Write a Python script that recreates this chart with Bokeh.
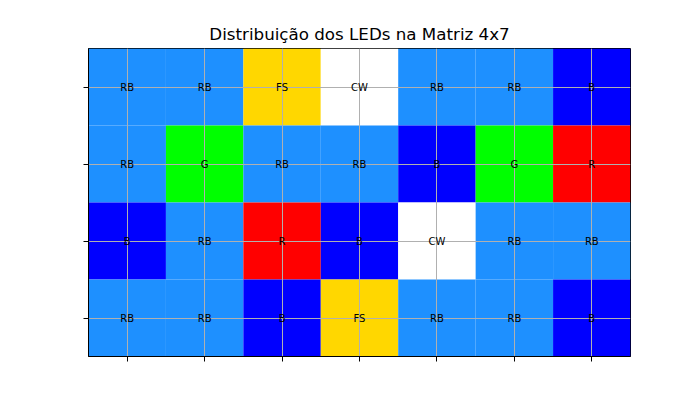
from bokeh.plotting import figure
from bokeh.models import ColumnDataSource, FixedTicker, Range1d
from bokeh.embed import file_html
from bokeh.resources import INLINE
from bokeh.core.properties import value

title = "Distribuição dos LEDs na Matriz 4x7"
n_rows = 4
n_cols = 7
row0 = ["RB", "RB", "FS", "CW", "RB", "RB", "B"]
row1 = ["RB", "G", "RB", "RB", "B", "G", "R"]
row2 = ["B", "RB", "R", "B", "CW", "RB", "RB"]
row3 = ["RB", "RB", "B", "FS", "RB", "RB", "B"]
matrix = [row0, row1, row2, row3]
palette = {"RB": "#1E90FF", "B": "#0000FF", "FS": "#FFD700",
           "CW": "#FFFFFF", "G": "#00FF00", "R": "#FF0000"}

xs, ys, labels, colors = [], [], [], []
for r, row in enumerate(matrix):
    for c, lab in enumerate(row):
        xs.append(c + 0.5)
        ys.append(r + 0.5)
        labels.append(lab)
        colors.append(palette[lab])
src = ColumnDataSource(dict(x=xs, y=ys, label=labels, color=colors))

p = figure(width=700, height=400, output_backend="svg", toolbar_location=None,
           x_range=Range1d(0, n_cols), y_range=Range1d(n_rows, 0),
           min_border_left=88, min_border_right=70, min_border_top=48, min_border_bottom=44)
p.title.text = title
p.title.align = "center"
p.title.text_font = "DejaVu Sans"
p.title.text_font_size = "16.7px"
p.title.text_font_style = "normal"
p.title.text_color = "black"

p.rect(x="x", y="y", width=1, height=1, source=src, fill_color="color",
       line_color=None, level="image")
p.text(x="x", y="y", text="label", source=src, text_align="center",
       text_baseline="middle", text_font=value("DejaVu Sans"),
       text_font_size="10px", text_color="black")

ticks_x = [i + 0.5 for i in range(n_cols)]
ticks_y = [i + 0.5 for i in range(n_rows)]
p.xaxis.ticker = FixedTicker(ticks=ticks_x)
p.yaxis.ticker = FixedTicker(ticks=ticks_y)
for ax in (p.xaxis[0], p.yaxis[0]):
    ax.major_label_text_color = None
    ax.major_label_text_font_size = "1px"
    ax.major_tick_in = 0
    ax.major_tick_out = 5
    ax.minor_tick_line_color = None
    ax.axis_line_color = "black"
    ax.major_tick_line_color = "black"
p.xgrid.ticker = FixedTicker(ticks=ticks_x)
p.ygrid.ticker = FixedTicker(ticks=ticks_y)
p.grid.grid_line_color = "#b0b0b0"
p.grid.grid_line_width = 1
p.grid.level = "underlay"
p.outline_line_color = "black"
p.outline_line_width = 1
p.background_fill_color = "white"

open("out.html", "w").write(file_html(p, INLINE))
